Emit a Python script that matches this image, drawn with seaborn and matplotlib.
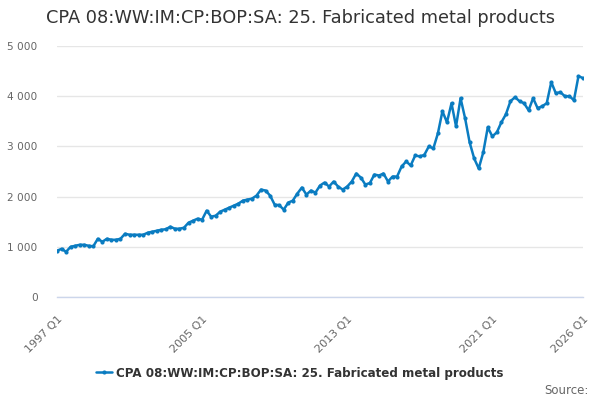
import numpy as np
import pandas as pd
import seaborn as sns
import matplotlib.pyplot as plt

# quarterly values, 1997 Q1 .. 2026 Q1
values_1997_2005 = [920, 960, 900, 1000, 1020, 1040, 1040, 1020, 1010, 1160, 1100, 1160,
                    1140, 1140, 1160, 1260, 1240, 1240, 1240, 1240, 1280, 1300, 1320, 1340,
                    1350, 1400, 1360, 1360, 1380, 1480, 1520, 1560, 1540]
values_2005_2014 = [1720, 1600, 1620, 1700, 1740, 1780, 1820, 1860, 1920, 1940, 1960, 2020,
                    2140, 2120, 2020, 1840, 1830, 1740, 1880, 1920, 2060, 2180, 2040, 2120,
                    2080, 2220, 2280, 2200, 2300, 2200, 2140, 2200, 2300, 2460, 2380, 2240]
values_2014_2026 = [2270, 2440, 2420, 2460, 2300, 2400, 2400, 2600, 2700, 2620, 2820, 2800,
                    2830, 3000, 2960, 3260, 3700, 3480, 3860, 3400, 3960, 3560, 3080, 2760,
                    2560, 2880, 3380, 3200, 3280, 3480, 3640, 3900, 3980, 3900, 3860, 3720,
                    3960, 3760, 3800, 3860, 4280, 4060, 4080, 4000, 4000, 3920, 4400, 4360]
values = values_1997_2005 + values_2005_2014 + values_2014_2026
quarters = [f"{1997 + i // 4} Q{i % 4 + 1}" for i in range(len(values))]
label_quarters = ["1997 Q1", "2005 Q1", "2013 Q1", "2021 Q1", "2026 Q1"]
series_name = "CPA 08:WW:IM:CP:BOP:SA: 25. Fabricated metal products"

df = pd.DataFrame({"idx": np.arange(len(values)), "quarter": quarters, "value": values})

sns.set_style("white")
plt.rcParams['font.family'] = ['DejaVu Sans']

fig = plt.figure(figsize=(6, 4), dpi=100)
ax = fig.add_axes([57 / 600, 103 / 400, 526 / 600, 251 / 400])

sns.lineplot(data=df, x="idx", y="value", ax=ax, color="#0a7cc1", linewidth=1.8,
             marker="o", markersize=3.0, markeredgewidth=0, label=series_name)

ax.set_xlim(0, len(values) - 1)
ax.set_ylim(0, 5000)
ax.set_yticks([0, 1000, 2000, 3000, 4000, 5000])
ax.set_yticklabels(["0", "1 000", "2 000", "3 000", "4 000", "5 000"],
                   color="#666666", fontsize=7.6)
ax.yaxis.grid(True, color="#e6e6e6", linewidth=1)
ax.tick_params(axis="y", length=0, pad=14)

last = len(values) - 1
tick_pos = list(range(0, 105, 8)) + [last]
ax.set_xticks(tick_pos)
ax.set_xticklabels([q if q in label_quarters else "" for q in
                    [quarters[i] for i in tick_pos]],
                   rotation=45, ha="right", rotation_mode="anchor",
                   color="#666666", fontsize=8)
ax.tick_params(axis="x", length=10, color="#ccd6eb", width=1, pad=2)
ax.set_xlabel("")
ax.set_ylabel("")

for s in ["top", "right", "left"]:
    ax.spines[s].set_visible(False)
ax.spines["bottom"].set_color("#ccd6eb")
ax.spines["bottom"].set_linewidth(1)

fig.text(0.5, 1 - 18 / 400, series_name, ha="center", va="center",
         fontsize=12.8, color="#333333")

leg = ax.legend(loc="center", bbox_to_anchor=(0.5, 1 - 373 / 400),
                bbox_transform=fig.transFigure, frameon=False,
                prop={"size": 8.6, "weight": "bold"}, handlelength=1.3,
                handletextpad=0.4)
for t in leg.get_texts():
    t.set_color("#333333")

fig.text(589 / 600, 1 - 390 / 400, "Source:", ha="right", va="center",
         fontsize=8.5, color="#666666")

fig.savefig("out.png", dpi=100)
